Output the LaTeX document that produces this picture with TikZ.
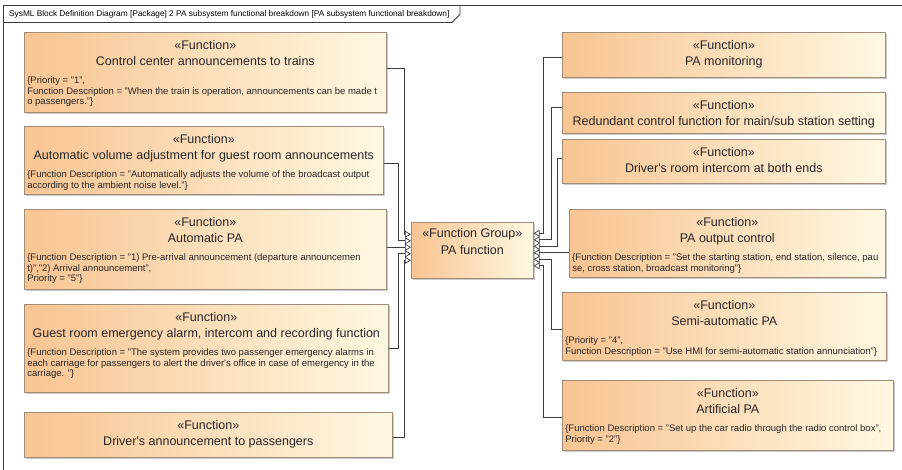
\documentclass[tikz,border=0pt]{standalone}
\usepackage{fontspec}
\setmainfont{Liberation Sans}
\usetikzlibrary{arrows.meta, shadows}

\definecolor{fnleft}{RGB}{248,196,146}
\definecolor{fnright}{RGB}{255,248,226}
\definecolor{fnborder}{RGB}{160,140,120}
\definecolor{wire}{RGB}{60,60,60}

% width, height, name, properties
\newcommand\fnbody[4]{%
  \parbox[t][#2][t]{#1}{\fontsize{12.5}{16}\selectfont
    \hbox to\linewidth{\hss\rule{0pt}{17.5pt}«Function»\hss}
    \hbox to\linewidth{\hss#3\hss}
    \if\relax\detokenize{#4}\relax\else
      \vspace{2pt}
      \hbox to\linewidth{\rlap{\vtop{\fontsize{9.5}{10.5}\selectfont
        \hsize=\dimexpr#1+60pt\relax\parindent=0pt\leftskip=3pt
        \rightskip=0pt plus 1fil\noindent#4\par}}\hss}
    \fi}}

\begin{document}
\begin{tikzpicture}[
    x=1pt, y=-1pt,
    fn/.style={draw=fnborder, line width=0.6pt, left color=fnleft, right color=fnright,
      inner sep=0pt, anchor=north west, text=black!85,
      drop shadow={shadow xshift=1.5pt, shadow yshift=-1.5pt, fill=black!40}},
    conn/.style={draw=wire, line width=0.8pt,
      -{Triangle[open, length=6pt, width=7pt, line width=0.7pt]}},
]
\path[fill=white, use as bounding box] (0,0) rectangle (902,470);

\draw[wire, line width=0.8pt] (3,5) rectangle (910,480);
\draw[wire, line width=0.8pt] (3,22.5) -- (452,22.5) -- (460,14.5) -- (460,5);
\node[anchor=base west, inner sep=0pt, font=\fontsize{8.3}{10}\selectfont] (hdr) at (9,17)
  {SysML Block Definition Diagram [Package] 2 PA subsystem functional breakdown [PA subsystem functional breakdown]};

\node[fn] (L1) at (24,32) {\fnbody{362pt}{80pt}{Control center announcements to trains}
  {\{Priority = "1",\\Function Description = "When the train is operation, announcements can be made t\\o passengers."\}}};
\node[fn] (L2) at (24,126) {\fnbody{359pt}{68pt}{Automatic volume adjustment for guest room announcements}
  {\{Function Description = "Automatically adjusts the volume of the broadcast output\\according to the ambient noise level."\}}};
\node[fn] (L3) at (24,209) {\fnbody{362pt}{80pt}{Automatic PA}
  {\{Function Description = "1) Pre-arrival announcement (departure announcemen\\t)","2) Arrival announcement",\\Priority = "5"\}}};
\node[fn] (L4) at (24,304) {\fnbody{364pt}{88pt}{Guest room emergency alarm, intercom and recording function}
  {\{Function Description = "The system provides two passenger emergency alarms in\\each carriage for passengers to alert the driver\textquotesingle s office in case of emergency in the\\carriage. "\}}};
\node[fn] (L5) at (24,412) {\fnbody{368pt}{45pt}{Driver\textquotesingle s announcement to passengers}{}};

\node[fn] (grp) at (411,222) {\parbox[t][56pt][t]{122pt}{\fontsize{12.5}{17}\selectfont
  \hbox to\linewidth{\hss\rule{0pt}{15.5pt}«Function Group»\hss}
  \hbox to\linewidth{\hss PA function\hss}}};

\node[fn] (R1) at (562,32) {\fnbody{323pt}{45pt}{PA monitoring}{}};
\node[fn] (R2) at (562,92) {\fnbody{323pt}{41pt}{Redundant control function for main/sub station setting}{}};
\node[fn] (R3) at (562,139) {\fnbody{323pt}{44pt}{Driver\textquotesingle s room intercom at both ends}{}};
\node[fn] (R4) at (569,209) {\fnbody{316pt}{68pt}{PA output control}
  {\{Function Description = "Set the starting station, end station, silence, pau\\se, cross station, broadcast monitoring"\}}};
\node[fn] (R5) at (562,292) {\fnbody{324pt}{68pt}{Semi-automatic PA}
  {\{Priority = "4",\\Function Description = "Use HMI for semi-automatic station annunciation"\}}};
\node[fn] (R6) at (562,380) {\fnbody{331pt}{70pt}{Artificial PA}
  {\{Function Description = "Set up the car radio through the radio control box",\\Priority = "2"\}}};

\foreach \i/\dy in {1/16, 2/9.5, 3/3, 4/-3.5, 5/-10}
  \coordinate (gl\i) at ([yshift=\dy pt]grp.west);
\foreach \i/\dy in {1/17, 2/10.5, 3/4, 4/-2.5, 5/-9, 6/-15.5}
  \coordinate (gr\i) at ([yshift=\dy pt]grp.east);

\draw[conn] ([yshift=4pt]L1.east) -| ([xshift=-7pt]gl1) -- (gl1);
\draw[conn] ([yshift=-3pt]L2.east) -| ([xshift=-13pt]gl2) -- (gl2);
\draw[conn] ([yshift=2pt]L3.east) -- (gl3);
\draw[conn] (L4.east) -| ([xshift=-13pt]gl4) -- (gl4);
\draw[conn] ([yshift=-2.5pt]L5.east) -| ([xshift=-7pt]gl5) -- (gl5);

\draw[conn] ([yshift=-2.5pt]R1.west) -| ([xshift=10pt]gr1) -- (gr1);
\draw[conn] ([yshift=5.5pt]R2.west) -| ([xshift=18pt]gr2) -- (gr2);
\draw[conn] ([yshift=3pt]R3.west) -| ([xshift=24pt]gr3) -- (gr3);
\draw[conn] (R4.west |- gr4) -- (gr4);
\draw[conn] ([yshift=-3pt]R5.west) -| ([xshift=18pt]gr5) -- (gr5);
\draw[conn] ([yshift=-2pt]R6.west) -| ([xshift=10pt]gr6) -- (gr6);
\end{tikzpicture}
\end{document}
